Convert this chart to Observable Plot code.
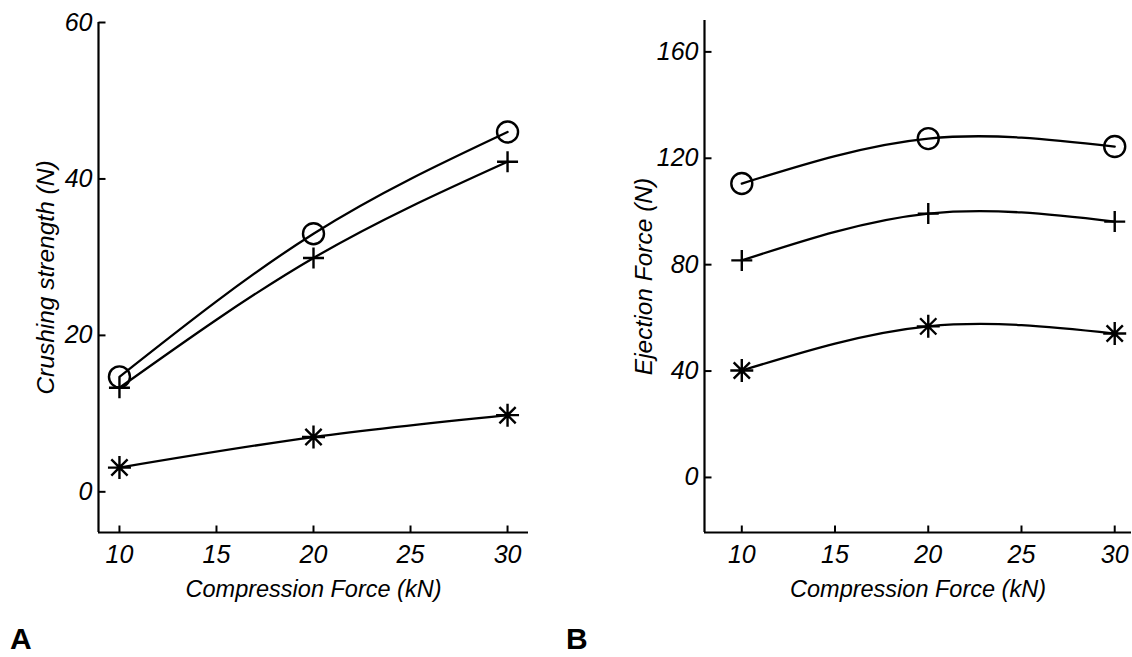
<!DOCTYPE html>
<html>
<head>
<meta charset="utf-8">
<script src="https://cdn.jsdelivr.net/npm/d3@7"></script>
<script src="https://cdn.jsdelivr.net/npm/@observablehq/plot@0.6"></script>
<style>
  html, body { margin: 0; padding: 0; background: #fff; }
  #wrap { position: relative; width: 1132px; height: 657px; overflow: hidden; }
  .panel { position: absolute; top: 0; }
  .letter { position: absolute; top: 624px; font: bold 30px "Liberation Sans", Arial, sans-serif; line-height: 1; color: #000; }
  g[aria-label="y-axis label"] { font-size: 24.5px; }
  g[aria-label="x-axis label"] { font-size: 23.5px; }
</style>
</head>
<body>
<div id="wrap">
  <div id="panelA" class="panel" style="left:0px"></div>
  <div id="panelB" class="panel" style="left:566px"></div>
  <div class="letter" style="left:10px">A</div>
  <div class="letter" style="left:566px">B</div>
</div>
<script>
// ---- data ----
const compressionForce = [10, 20, 30];
const xTicks = [10, 15, 20, 25, 30];
const xTitle = "Compression Force (kN)";

// Panel A: crushing strength (N)
const crushCircle = [14.7, 33.0, 46.0];
const crushPlus = [13.3, 29.9, 42.2];
const crushStar = [3.1, 7.0, 9.8];
const crushTicks = [0, 20, 40, 60];
const crushTitle = "Crushing strength (N)";

// Panel B: ejection force (N)
const ejectCircle = [110.5, 127.4, 124.4];
const ejectPlus = [81.6, 99.2, 96.2];
const ejectStar = [40.2, 56.8, 54.1];
const ejectTicks = [0, 40, 80, 120, 160];
const ejectTitle = "Ejection Force (N)";

// ---- custom symbols (size = pi r^2) ----
const rad = (size) => Math.sqrt(size / Math.PI);
const plusSym = { draw(ctx, size) { const r = rad(size); ctx.moveTo(-r, 0); ctx.lineTo(r, 0); ctx.moveTo(0, -r); ctx.lineTo(0, r); } };
const starSym = { draw(ctx, size) { const r = rad(size), d = r * Math.SQRT1_2;
  ctx.moveTo(-r, 0); ctx.lineTo(r, 0); ctx.moveTo(0, -r); ctx.lineTo(0, r);
  ctx.moveTo(-d, -d); ctx.lineTo(d, d); ctx.moveTo(-d, d); ctx.lineTo(d, -d); } };
const tickUpSym = { draw(ctx, size) { const r = rad(size); ctx.moveTo(0, 0); ctx.lineTo(0, -r); } };
const tickRightSym = { draw(ctx, size) { const r = rad(size); ctx.moveTo(0, 0); ctx.lineTo(r, 0); } };

const FONT = '"Liberation Sans", Arial, Helvetica, sans-serif';

function rows(values) { return compressionForce.map((x, i) => ({x, y: values[i]})); }

function panel({series, yTicks, yTitle, xDomain, yDomain, marginLeft, marginRight, marginTop, yLabelOffset}) {
  const [c, p, s] = series.map(rows);
  return Plot.plot({
    width: 566,
    height: 610,
    marginLeft,
    marginRight,
    marginTop,
    marginBottom: 78,
    style: { fontFamily: FONT, fontStyle: "italic", fontSize: "25px", color: "#000", background: "#fff", overflow: "visible" },
    x: { domain: xDomain, ticks: xTicks, tickSize: 0, tickPadding: 13, label: xTitle, labelAnchor: "center", labelOffset: 64, labelArrow: "none" },
    y: { domain: yDomain, ticks: yTicks, tickSize: 0, tickPadding: 6, label: yTitle, labelAnchor: "center", labelOffset: yLabelOffset, labelArrow: "none" },
    marks: [
      Plot.ruleY([yDomain[0]], { stroke: "#000", strokeWidth: 2.2 }),
      Plot.ruleX([xDomain[0]], { stroke: "#000", strokeWidth: 2.2 }),
      Plot.dot(xTicks, { x: d => d, frameAnchor: "bottom", symbol: tickUpSym, r: 7, stroke: "#000", strokeWidth: 2 }),
      Plot.dot(yTicks, { y: d => d, frameAnchor: "left", symbol: tickRightSym, r: 7, stroke: "#000", strokeWidth: 2 }),
      Plot.line(c, { x: "x", y: "y", curve: "natural", stroke: "#000", strokeWidth: 2.3 }),
      Plot.line(p, { x: "x", y: "y", curve: "natural", stroke: "#000", strokeWidth: 2.3 }),
      Plot.line(s, { x: "x", y: "y", curve: "natural", stroke: "#000", strokeWidth: 2.3 }),
      Plot.dot(c, { x: "x", y: "y", symbol: "circle", r: 10.5, fill: "none", stroke: "#000", strokeWidth: 2.4 }),
      Plot.dot(p, { x: "x", y: "y", symbol: plusSym, r: 10.5, stroke: "#000", strokeWidth: 2.4 }),
      Plot.dot(s, { x: "x", y: "y", symbol: starSym, r: 11.5, stroke: "#000", strokeWidth: 2.4 })
    ]
  });
}

document.getElementById("panelA").append(panel({
  series: [crushCircle, crushPlus, crushStar],
  yTicks: crushTicks, yTitle: crushTitle,
  xDomain: [8.92, 31.08], yDomain: [-5.2, 60],
  marginLeft: 98, marginRight: 38, marginTop: 22, yLabelOffset: 62
}));

document.getElementById("panelB").append(panel({
  series: [ejectCircle, ejectPlus, ejectStar],
  yTicks: ejectTicks, yTitle: ejectTitle,
  xDomain: [8, 30.9], yDomain: [-20.7, 171.8],
  marginLeft: 138, marginRight: 1, marginTop: 20, yLabelOffset: 70
}));
</script>
</body>
</html>
